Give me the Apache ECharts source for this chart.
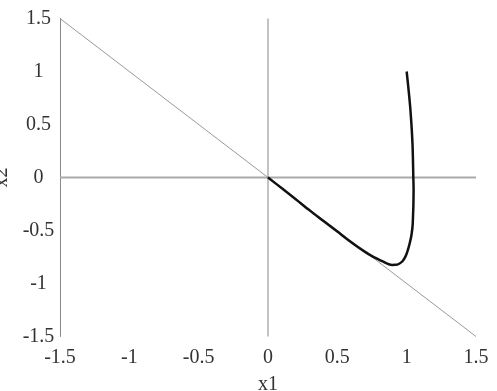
<!DOCTYPE html>
<html>
<head>
<meta charset="utf-8">
<script src="https://cdn.jsdelivr.net/npm/echarts@6/dist/echarts.min.js"></script>
<style>html,body{margin:0;padding:0;background:#fff}#c{width:497px;height:391px}</style>
</head>
<body>
<div id="c"></div>
<script>
// Trajectory (x1, x2)
var trajX1 = [1.0, 1.012, 1.027, 1.042, 1.048, 1.05, 1.044, 1.035, 1.022, 1.005, 0.991, 0.97, 0.943, 0.92, 0.895, 0.865, 0.835, 0.8, 0.75, 0.7, 0.6, 0.5, 0.4, 0.3, 0.2, 0.1, 0.0];
var trajX2 = [1.0, 0.85, 0.64, 0.32, 0.0, -0.12, -0.43, -0.54, -0.62, -0.70, -0.747, -0.79, -0.816, -0.824, -0.825, -0.815, -0.797, -0.774, -0.742, -0.702, -0.61, -0.51, -0.41, -0.31, -0.205, -0.102, 0.0];
// Reference lines
var diagX1 = [-1.5, 1.5];
var diagX2 = [1.5, -1.5];
var hZeroX1 = [-1.5, 1.5];
var hZeroX2 = [0, 0];
var vZeroX1 = [0, 0];
var vZeroX2 = [-1.5, 1.5];
var axisMin = -1.5, axisMax = 1.5, axisStep = 0.5;

function pairs(a, b) { return a.map(function (v, i) { return [v, b[i]]; }); }

var font = 'Liberation Serif';
var chart = echarts.init(document.getElementById('c'), null, { renderer: 'canvas' });
chart.setOption({
  animation: false,
  backgroundColor: '#fff',
  grid: { left: 60, right: 21, top: 18.5, bottom: 54.5, containLabel: false, outerBoundsMode: 'none' },
  xAxis: {
    type: 'value', min: axisMin, max: axisMax, interval: axisStep,
    name: 'x1', nameLocation: 'middle', nameGap: 38,
    nameTextStyle: { fontFamily: font, fontSize: 20, color: '#333' },
    axisLine: { show: false }, axisTick: { show: false }, splitLine: { show: false },
    axisLabel: { fontFamily: font, fontSize: 20, color: '#333', margin: 11 }
  },
  yAxis: {
    type: 'value', min: axisMin, max: axisMax, interval: axisStep,
    name: 'x2', nameLocation: 'middle', nameGap: 41,
    nameTextStyle: { fontFamily: font, fontSize: 20, color: '#333' },
    axisLine: { show: true, onZero: false, lineStyle: { color: '#888', width: 1 } },
    axisTick: { show: false }, splitLine: { show: false },
    axisLabel: { fontFamily: font, fontSize: 20, color: '#333', margin: 21.5, align: 'center' }
  },
  series: [
    { type: 'line', data: pairs(hZeroX1, hZeroX2), symbol: 'none', lineStyle: { color: '#aaa', width: 2 }, silent: true },
    { type: 'line', data: pairs(vZeroX1, vZeroX2), symbol: 'none', lineStyle: { color: '#888', width: 1 }, silent: true },
    { type: 'line', data: pairs(diagX1, diagX2), symbol: 'none', lineStyle: { color: '#999', width: 1 }, silent: true },
    { type: 'line', data: pairs(trajX1, trajX2), symbol: 'none', smooth: 0.3, lineStyle: { color: '#111', width: 2.5 } }
  ]
});
</script>
</body>
</html>
